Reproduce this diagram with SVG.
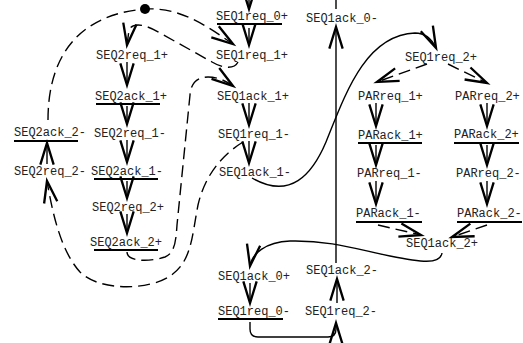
<svg xmlns="http://www.w3.org/2000/svg" width="523" height="343" viewBox="0 0 523 343">
  <style>
    text { font-family: "Liberation Mono", "Courier New", monospace; font-size: 12px; fill: #222; }
    .ul { stroke: #000; stroke-width: 2; }
    .arc { fill: none; stroke: #000; stroke-width: 1.4; }
    .dash { stroke-dasharray: 12 6; }
  </style>
  <defs>
    <marker id="ah" markerUnits="userSpaceOnUse" markerWidth="30" markerHeight="30" refX="0" refY="0" viewBox="-16 -8 18 16" orient="auto" overflow="visible">
      <path d="M-13,-4 L0,0 L-13,4" fill="none" stroke="#000" stroke-width="1.4" stroke-dasharray="none"/>
    </marker>
  </defs>
  <rect width="523" height="343" fill="#fff"/>

  <!-- connectors -->
  <g id="connectors">
    <!-- SEQ1 column -->
    <path class="arc" d="M249,-10 V9" marker-end="url(#ah)"/>
    <path class="arc" d="M249,28 V45" marker-end="url(#ah)"/>
    <path class="arc" d="M249,103 V125" marker-end="url(#ah)"/>
    <path class="arc" d="M249,141 V163" marker-end="url(#ah)"/>
    <!-- SEQ2 column -->
    <path class="arc" d="M127,62 V85" marker-end="url(#ah)"/>
    <path class="arc" d="M127,106 V124" marker-end="url(#ah)"/>
    <path class="arc" d="M127,140 V162" marker-end="url(#ah)"/>
    <path class="arc" d="M127,181 V198" marker-end="url(#ah)"/>
    <path class="arc" d="M127,214 V233" marker-end="url(#ah)"/>
    <path class="arc" d="M47,164 V143" marker-end="url(#ah)"/>
    <!-- PAR columns -->
    <path class="arc" d="M376,103 V126" marker-end="url(#ah)"/>
    <path class="arc" d="M376,145 V165" marker-end="url(#ah)"/>
    <path class="arc" d="M376,181 V204" marker-end="url(#ah)"/>
    <path class="arc" d="M487,103 V126" marker-end="url(#ah)"/>
    <path class="arc" d="M487,145 V165" marker-end="url(#ah)"/>
    <path class="arc" d="M487,181 V204" marker-end="url(#ah)"/>
    <!-- bottom SEQ1 -->
    <path class="arc" d="M250,283 V303" marker-end="url(#ah)"/>
    <path class="arc" d="M337,303 V279" marker-end="url(#ah)"/>
    <path class="arc" d="M336,263 V27" marker-end="url(#ah)"/>
    <path class="arc" d="M336,0 V9"/>
    <path class="arc" d="M250,322 V329 Q250,337 258,337 H328 Q336,337 336,329 V323" marker-end="url(#ah)"/>
    <!-- SEQ1ack_1- to SEQ1req_2+ -->
    <path class="arc" d="M252,178 C290,200 312,175 326,142 C345,95 365,35 415,33 Q429,33 436,48" marker-end="url(#ah)"/>
    <!-- SEQ1ack_2+ to SEQ1ack_0+ -->
    <path class="arc" d="M442,253 C440,265 420,262 390,256 C360,250 330,240 290,241 C265,242 252,254 250,266" marker-end="url(#ah)"/>
    <!-- fork / join of PAR -->
    <path class="arc dash" d="M427,64 L377,82" marker-end="url(#ah)"/>
    <path class="arc dash" d="M448,64 L487,83" marker-end="url(#ah)"/>
    <path class="arc dash" d="M378,225 L421,235" marker-end="url(#ah)"/>
    <path class="arc dash" d="M487,225 L452,237" marker-end="url(#ah)"/>
    <!-- token arc: SEQ2ack_2- to SEQ1req_1+ -->
    <path class="arc dash" d="M48,120 C48,60 75,15 145,9 C180,7 205,25 233,44" marker-end="url(#ah)"/>
    <!-- SEQ1req_1+ to SEQ2req_1+ -->
    <path class="arc dash" d="M238,62 C234,70 222,68 212,62 L160,33 C145,24 133,22 129,30 L127,45" marker-end="url(#ah)"/>
    <!-- SEQ2ack_2+ to SEQ1ack_1+ -->
    <path class="arc dash" d="M127,252 C127,262 150,262 165,257 C175,253 176,240 177,225 L190,95 C191,82 198,77 208,77 C218,77 226,81 233,86" marker-end="url(#ah)"/>
    <!-- SEQ1req_1- to SEQ2req_2- -->
    <path class="arc dash" d="M243,142 C222,155 205,175 198,205 C192,235 192,262 170,276 C150,290 100,292 80,272 C60,250 52,210 47,181" marker-end="url(#ah)"/>
    <circle cx="145" cy="9" r="5" fill="#000"/>
  </g>

  <!-- SEQ1 branch 0 -->
  <g id="SEQ1req_0p"><text x="216" y="20">SEQ1req_0+</text><line class="ul" x1="217" y1="24" x2="282" y2="24"/></g>
  <g id="SEQ1ack_0m"><text x="306" y="22">SEQ1ack_0-</text></g>
  <g id="SEQ1req_1p"><text x="216" y="59">SEQ1req_1+</text></g>
  <g id="SEQ1ack_1p"><text x="217" y="100">SEQ1ack_1+</text></g>
  <g id="SEQ1req_1m"><text x="218" y="138">SEQ1req_1-</text></g>
  <g id="SEQ1ack_1m"><text x="219" y="176">SEQ1ack_1-</text></g>

  <!-- SEQ2 -->
  <g id="SEQ2req_1p"><text x="96" y="59">SEQ2req_1+</text></g>
  <g id="SEQ2ack_1p"><text x="95" y="100">SEQ2ack_1+</text><line class="ul" x1="96" y1="104" x2="160" y2="104"/></g>
  <g id="SEQ2req_1m"><text x="94" y="137">SEQ2req_1-</text></g>
  <g id="SEQ2ack_1m"><text x="91" y="175">SEQ2ack_1-</text><line class="ul" x1="94" y1="179" x2="158" y2="179"/></g>
  <g id="SEQ2req_2p"><text x="92" y="211">SEQ2req_2+</text></g>
  <g id="SEQ2ack_2p"><text x="90" y="246">SEQ2ack_2+</text><line class="ul" x1="94" y1="250" x2="158" y2="250"/></g>
  <g id="SEQ2ack_2m"><text x="14" y="136">SEQ2ack_2-</text><line class="ul" x1="14" y1="141" x2="78" y2="141"/></g>
  <g id="SEQ2req_2m"><text x="14" y="175">SEQ2req_2-</text></g>

  <!-- SEQ1 branch 2 with parallel part -->
  <g id="SEQ1req_2p"><text x="405" y="61">SEQ1req_2+</text></g>
  <g id="PARreq_1p"><text x="358" y="100">PARreq_1+</text></g>
  <g id="PARreq_2p"><text x="455" y="100">PARreq_2+</text></g>
  <g id="PARack_1p"><text x="358" y="139">PARack_1+</text><line class="ul" x1="358" y1="143" x2="422" y2="143"/></g>
  <g id="PARack_2p"><text x="454" y="138">PARack_2+</text><line class="ul" x1="454" y1="143" x2="519" y2="143"/></g>
  <g id="PARreq_1m"><text x="357" y="177">PARreq_1-</text></g>
  <g id="PARreq_2m"><text x="456" y="177">PARreq_2-</text></g>
  <g id="PARack_1m"><text x="356" y="217">PARack_1-</text><line class="ul" x1="356" y1="222" x2="422" y2="222"/></g>
  <g id="PARack_2m"><text x="457" y="217">PARack_2-</text><line class="ul" x1="457" y1="222" x2="522" y2="222"/></g>
  <g id="SEQ1ack_2p"><text x="406" y="247">SEQ1ack_2+</text></g>

  <!-- return to idle -->
  <g id="SEQ1ack_0p"><text x="218" y="280">SEQ1ack_0+</text></g>
  <g id="SEQ1req_0m"><text x="218" y="315">SEQ1req_0-</text><line class="ul" x1="218" y1="319" x2="283" y2="319"/></g>
  <g id="SEQ1ack_2m"><text x="306" y="274">SEQ1ack_2-</text></g>
  <g id="SEQ1req_2m"><text x="305" y="315">SEQ1req_2-</text></g>
</svg>
